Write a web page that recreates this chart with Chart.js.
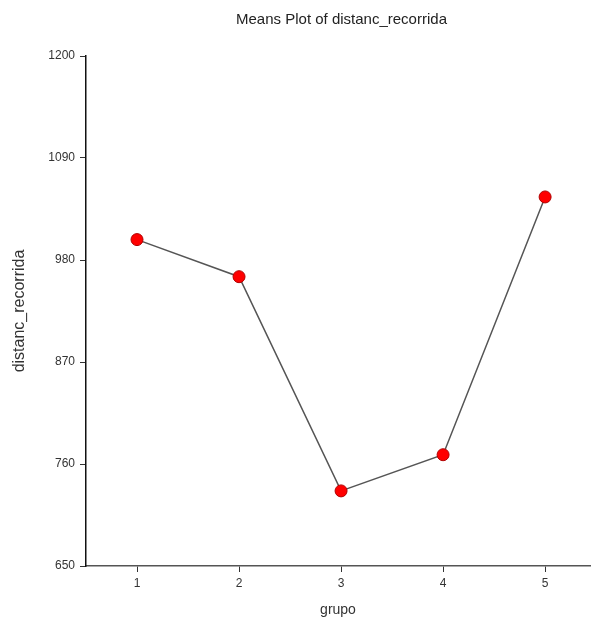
<!DOCTYPE html>
<html>
<head>
<meta charset="utf-8">
<script src="https://cdn.jsdelivr.net/npm/chart.js@4"></script>
<style>
  html, body { margin: 0; padding: 0; background: #fff; overflow: hidden; }
  #wrap { width: 591px; height: 623px; overflow: hidden; }
</style>
</head>
<body>
<div id="wrap"><canvas id="meansChart" width="597" height="623"></canvas></div>
<script>
// group means
const groups = [1, 2, 3, 4, 5];
const means = [1002, 962, 731, 770, 1048];
const yTicks = [650, 760, 870, 980, 1090, 1200];

const FONT = 'Arial, "Liberation Sans", sans-serif';

// title centred over the plot area rather than the canvas
const plotTitle = {
  id: 'plotTitle',
  afterDraw(chart) {
    const { ctx, chartArea } = chart;
    ctx.save();
    ctx.font = '15px ' + FONT;
    ctx.fillStyle = '#222';
    ctx.textAlign = 'center';
    ctx.textBaseline = 'middle';
    ctx.fillText('Means Plot of distanc_recorrida', (chartArea.left + 597) / 2, 20);
    ctx.restore();
  }
};

const ctx = document.getElementById('meansChart').getContext('2d');
new Chart(ctx, {
  type: 'line',
  data: {
    datasets: [{
      data: groups.map((g, i) => ({ x: g, y: means[i] })),
      borderColor: '#555',
      borderWidth: 1.5,
      tension: 0,
      pointRadius: 6,
      pointBackgroundColor: '#ff0000',
      pointBorderColor: '#b00000',
      pointBorderWidth: 1
    }]
  },
  options: {
    responsive: false,
    animation: false,
    layout: { padding: { top: 56, right: 0, left: 0, bottom: 0 } },
    plugins: { legend: { display: false }, tooltip: { enabled: false } },
    scales: {
      x: {
        type: 'linear',
        min: 0.5,
        max: 5.44,
        afterBuildTicks(scale) { scale.ticks = groups.map(v => ({ value: v })); },
        afterFit(scale) { scale.height = 57; },
        border: { color: '#555', width: 1.5 },
        grid: { drawOnChartArea: false, drawTicks: true, tickLength: 6, color: '#333' },
        ticks: { color: '#333', font: { family: FONT, size: 12 }, padding: 4 },
        title: { display: true, text: 'grupo', color: '#333', font: { family: FONT, size: 14 }, padding: { top: 15 } }
      },
      y: {
        min: 650,
        max: 1200,
        afterBuildTicks(scale) { scale.ticks = yTicks.map(v => ({ value: v })); },
        afterFit(scale) { scale.width = 86; },
        border: { color: '#111', width: 1.5 },
        grid: { drawOnChartArea: false, drawTicks: true, tickLength: 6, color: '#333' },
        ticks: { color: '#333', font: { family: FONT, size: 12 }, padding: 5, callback: v => String(v) },
        title: { display: true, text: 'distanc_recorrida', color: '#333', font: { family: FONT, size: 16 }, padding: { top: 10, bottom: 0 } }
      }
    }
  },
  plugins: [plotTitle]
});
</script>
</body>
</html>
